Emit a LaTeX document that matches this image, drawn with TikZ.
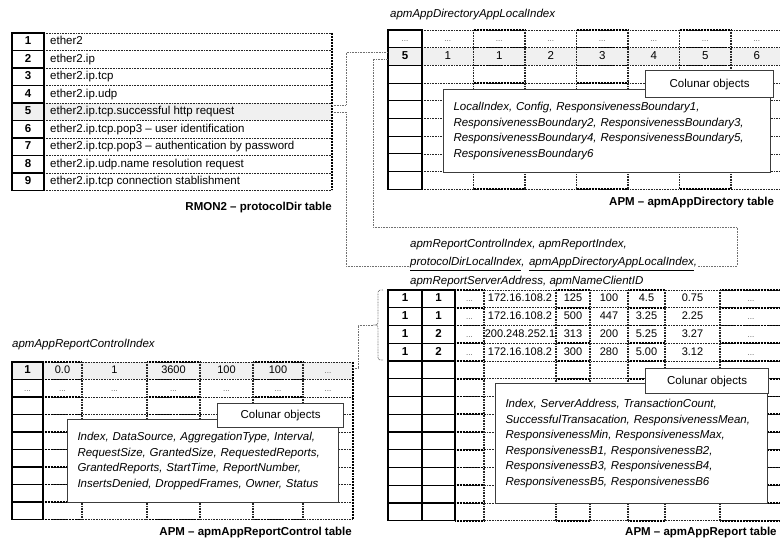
\documentclass[tikz,border=0pt]{standalone}
\usepackage{fontspec}
\setmainfont{Liberation Sans}
\usepackage{tikz}
\usetikzlibrary{positioning}
\definecolor{rowgray}{HTML}{F0F0F0}
\definecolor{linkgray}{HTML}{707070}
\definecolor{boxgray}{HTML}{3C3C3C}
\newcommand{\tabfont}{\fontsize{11.5}{14}\selectfont}
\newcommand{\skipdots}{\textcolor{black!65}{\fontsize{8}{10}\selectfont...}}

\begin{document}
\begin{tikzpicture}[x=1pt,y=-1pt,
  every node/.style={inner sep=0pt,font=\tabfont},
  cell/.style={text height=8.3pt,text depth=2.2pt},
  numcell/.style={cell,font=\fontsize{11}{13}\selectfont},
  idxcell/.style={draw=black,line width=1.1pt},
  thindot/.style={black!85,line width=0.7pt,dash pattern=on 0.7pt off 0.9pt},
  middot/.style={black!85,line width=1.1pt,dash pattern=on 0.8pt off 0.8pt},
  thickdot/.style={black,line width=1.6pt,dash pattern=on 1pt off 0.5pt},
  link/.style={linkgray,line width=0.8pt,dash pattern=on 0.8pt off 0.8pt},
  objbox/.style={draw=boxgray,line width=1pt,fill=white,anchor=north west,align=left,
    font=\fontsize{11.5}{15.6}\selectfont\itshape,inner xsep=10pt},
  colbox/.style={draw=boxgray,line width=1.2pt,fill=white,anchor=north west},
  tabtitle/.style={font=\tabfont\bfseries},
  keylabel/.style={font=\tabfont\itshape}]
  \useasboundingbox (0,0) rectangle (780,545);

  % RMON2 -- protocolDir table
  \fill[rowgray] (12,103) rectangle (332,120.5);
  \foreach \r in {0,...,9}
    \draw[thindot] (44,33+17.5*\r) -- (332,33+17.5*\r);
  \draw[thickdot] (332,33) -- (332,190.5);
  \foreach \txt [count=\n] in {ether2, ether2.ip, ether2.ip.tcp, ether2.ip.udp,
      ether2.ip.tcp.successful http request, ether2.ip.tcp.pop3 -- user identification,
      ether2.ip.tcp.pop3 -- authentication by password, ether2.ip.udp.name resolution request,
      ether2.ip.tcp connection stablishment} {
    \draw[idxcell] (12,15.5+17.5*\n) rectangle (44,33+17.5*\n);
    \node[cell,font=\tabfont\bfseries] (pd\n) at (28,24.25+17.5*\n) {\n};
    \node[cell,anchor=west] (pdname\n) at (50,24.25+17.5*\n) {\txt};
  }
  \node[tabtitle,anchor=east] (pdtitle) at (332,208) {RMON2 -- protocolDir table};

  % APM -- apmAppDirectory table
  \node[keylabel,anchor=west] (dirkey) at (390,15) {apmAppDirectoryAppLocalIndex};
  \fill[rowgray] (388,47.7) rectangle (782,65.4);
  \foreach \r in {0,...,9} {
    \draw[thindot] (422,30+17.7*\r) -- (782,30+17.7*\r);
    \foreach \c in {1,3,5}
      \draw[thickdot] (422+51.5*\c,30+17.7*\r) -- (473.5+51.5*\c,30+17.7*\r);
  }
  \foreach \c in {1,...,6}
    \draw[middot] (422+51.5*\c,30) -- (422+51.5*\c,189.3);
  \foreach \r in {1,...,9}
    \draw[idxcell] (388,12.3+17.7*\r) rectangle (422,30+17.7*\r);
  \node[cell] (dirdots) at (405,38.85) {\skipdots};
  \foreach \c in {1,...,7}
    \node[cell] (dirdots\c) at (396.25+51.5*\c,38.85) {\skipdots};
  \node[cell,font=\tabfont\bfseries] (dir5) at (405,56.55) {5};
  \foreach \v [count=\c] in {1,1,2,3,4,5,6}
    \node[cell] (dirval\c) at (396.25+51.5*\c,56.55) {\v};
  \node[objbox,text width=307pt,minimum height=83pt] (dirobjs) at (443,89)
    {LocalIndex, Config, ResponsivenessBoundary1,\\
     ResponsivenessBoundary2, ResponsivenessBoundary3,\\
     ResponsivenessBoundary4, ResponsivenessBoundary5,\\
     ResponsivenessBoundary6};
  \node[colbox,minimum width=128pt,minimum height=27pt] (dircol) at (645,70) {Colunar objects};
  \node[tabtitle,anchor=west] (dirtitle) at (609,203) {APM -- apmAppDirectory table};

  % APM -- apmAppReportControl table
  \node[keylabel,anchor=west] (ctlkey) at (12,345) {apmAppReportControlIndex};
  \fill[rowgray] (12,362) rectangle (353,379.5);
  \foreach \r in {0,...,9} {
    \draw[thindot] (43,362+17.5*\r) -- (353,362+17.5*\r);
    \foreach \xa/\xb in {43/82,147/200,253/303}
      \draw[thickdot] (\xa,362+17.5*\r) -- (\xb,362+17.5*\r);
  }
  \foreach \x in {82,147,200,253,303}
    \draw[middot] (\x,362) -- (\x,519.5);
  \draw[thickdot] (353,362) -- (353,519.5);
  \foreach \r in {1,...,9}
    \draw[idxcell] (12,344.5+17.5*\r) rectangle (43,362+17.5*\r);
  \node[cell,font=\tabfont\bfseries] (ctl1) at (27.5,370.75) {1};
  \foreach \v/\x [count=\c] in {0.0/62.5,1/114.5,3600/173.5,100/226.5,100/278,\skipdots/328}
    \node[numcell] (ctlval\c) at (\x,370.75) {\v};
  \foreach \x [count=\c] in {27.5,62.5,114.5,173.5,226.5,278,328}
    \node[cell] (ctldots\c) at (\x,388.25) {\skipdots};
  \node[objbox,text width=251pt,minimum height=83pt] (ctlobjs) at (67,419)
    {Index, DataSource, AggregationType, Interval,\\
     RequestSize, GrantedSize, RequestedReports,\\
     GrantedReports, StartTime, ReportNumber,\\
     InsertsDenied, DroppedFrames, Owner, Status};
  \node[colbox,minimum width=126pt,minimum height=24pt] (ctlcol) at (217,403) {Colunar objects};
  \node[tabtitle,anchor=east] (ctltitle) at (352,533) {APM -- apmAppReportControl table};

  % APM -- apmAppReport table
  \node[keylabel,anchor=base west] (rptkeyA) at (410,248) {apmReportControlIndex, apmReportIndex,};
  \node[keylabel,anchor=base west] (keyproto) at (410,266) {\underline{protocolDirLocalIndex},};
  \node[keylabel,base right=4pt of keyproto] (keyappdir) {\underline{apmAppDirectoryAppLocalIndex},};
  \node[keylabel,anchor=base west] (rptkeyC) at (410,285) {apmReportServerAddress, apmNameClientID};
  \foreach \r in {0,...,13} {
    \draw[thindot] (455,290+17.75*\r) -- (782,290+17.75*\r);
    \foreach \xa/\xb in {455/484,556/590,628/665,720/782}
      \draw[thickdot] (\xa,290+17.75*\r) -- (\xb,290+17.75*\r);
  }
  \foreach \x in {484,556,590,628,665,720}
    \draw[middot] (\x,290) -- (\x,520.75);
  \foreach \r in {1,...,13} {
    \draw[idxcell] (388,272.25+17.75*\r) rectangle (422,290+17.75*\r);
    \draw[idxcell] (422,272.25+17.75*\r) rectangle (455,290+17.75*\r);
  }
  \foreach \ia/\ib/\ip/\va/\vb/\vc/\vd [count=\r] in
      {1/1/172.16.108.2/125/100/4.5/0.75, 1/1/172.16.108.2/500/447/3.25/2.25,
       1/2/200.248.252.1/313/200/5.25/3.27, 1/2/172.16.108.2/300/280/5.00/3.12} {
    \node[cell,font=\tabfont\bfseries] (rptA\r) at (405,281.125+17.75*\r) {\ia};
    \node[cell,font=\tabfont\bfseries] (rptB\r) at (438.5,281.125+17.75*\r) {\ib};
    \node[cell] (rptC\r) at (469.5,281.125+17.75*\r) {\skipdots};
    \node[numcell] (rptD\r) at (520,281.125+17.75*\r) {\ip};
    \node[numcell] (rptE\r) at (573,281.125+17.75*\r) {\va};
    \node[numcell] (rptF\r) at (609,281.125+17.75*\r) {\vb};
    \node[numcell] (rptG\r) at (646.5,281.125+17.75*\r) {\vc};
    \node[numcell] (rptH\r) at (692.5,281.125+17.75*\r) {\vd};
    \node[cell] (rptI\r) at (751,281.125+17.75*\r) {\skipdots};
  }
  \node[objbox,text width=252pt,minimum height=120pt] (rptobjs) at (495,383)
    {Index, ServerAddress, TransactionCount,\\
     SuccessfulTransacation, ResponsivenessMean,\\
     ResponsivenessMin, ResponsivenessMax,\\
     ResponsivenessB1, ResponsivenessB2,\\
     ResponsivenessB3, ResponsivenessB4,\\
     ResponsivenessB5, ResponsivenessB6};
  \node[colbox,minimum width=123pt,minimum height=25pt] (rptcol) at (645,368) {Colunar objects};
  \node[tabtitle,anchor=west] (rpttitle) at (625,533) {APM -- apmAppReport table};

  % index links
  \coordinate (pdout1) at (332,105);
  \coordinate (pdout2) at (332,112);
  \coordinate (dirin1) at (388,52.5);
  \coordinate (dirin2) at (388,59.5);
  \coordinate (dirbend) at (737,227);
  \coordinate (ctlout) at (353,368);
  \coordinate (bracetip) at (373,325);
  \draw[link] (pdout1) -- ++(14,0) |- (dirin1);
  \draw[link] (pdout2) -- ++(14,0) |- (keyproto.base west);
  \draw[link] (dirin2) -- ++(-15,0) |- (dirbend) |- (keyappdir.base east);
  \draw[link] (ctlout) -- ++(5,0) |- (bracetip);
  \draw[link] (383,290) .. controls (378,290) .. (378,296) -- (378,319)
    .. controls (378,325) .. (bracetip) .. controls (378,325) .. (378,331)
    -- (378,354) .. controls (378,360) .. (383,360);
\end{tikzpicture}
\end{document}
